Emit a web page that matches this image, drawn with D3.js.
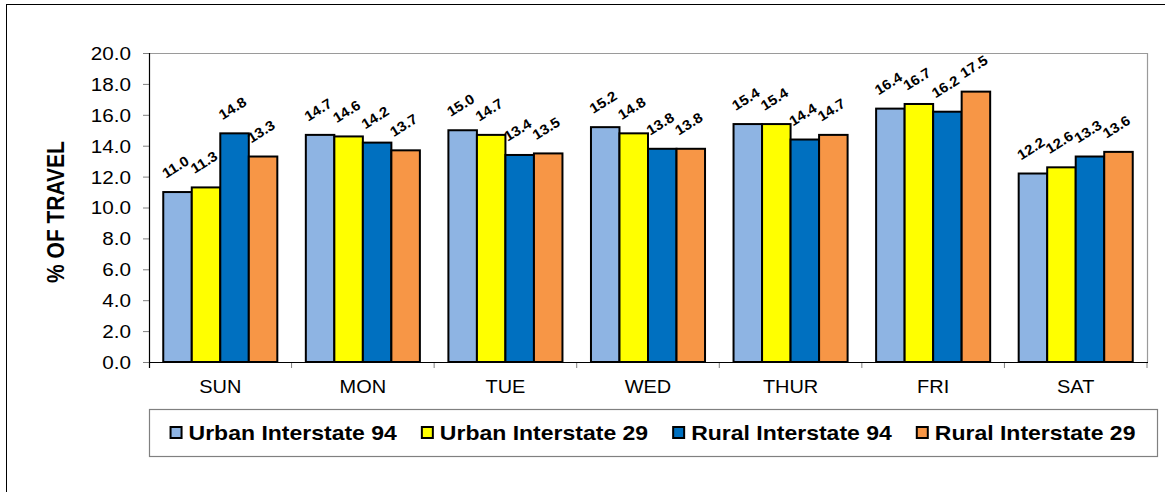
<!DOCTYPE html>
<html>
<head>
<meta charset="utf-8">
<script src="https://cdn.jsdelivr.net/npm/d3@7"></script>
<style>
  html, body { margin: 0; padding: 0; background: #fff; }
  svg { display: block; font-family: "Liberation Sans", Arial, sans-serif; }
</style>
</head>
<body>
<svg id="chart" width="1165" height="492"></svg>
<script>
// ---- data ----
const days = ["SUN", "MON", "TUE", "WED", "THUR", "FRI", "SAT"];
const seriesNames = ["Urban Interstate 94", "Urban Interstate 29", "Rural Interstate 94", "Rural Interstate 29"];
const urban94 = [11.0, 14.7, 15.0, 15.2, 15.4, 16.4, 12.2];
const urban29 = [11.3, 14.6, 14.7, 14.8, 15.4, 16.7, 12.6];
const rural94 = [14.8, 14.2, 13.4, 13.8, 14.4, 16.2, 13.3];
const rural29 = [13.3, 13.7, 13.5, 13.8, 14.7, 17.5, 13.6];
const yTicks = [0, 2, 4, 6, 8, 10, 12, 14, 16, 18, 20];
const yTitle = "% OF TRAVEL";

const seriesValues = [urban94, urban29, rural94, rural29];
const colors = ["#8EB4E3", "#FFFF00", "#0070C0", "#F79646"];

(function () {
// ---- layout ----
const svg = d3.select("#chart");
const pLeft = 149, pRight = 1147, pTop = 53, pBottom = 362;
const SX = 1.15; // horizontal text stretch seen in the reference

// outer frame
svg.append("rect").attr("x", 6.5).attr("y", 4.5).attr("width", 1300).attr("height", 600)
  .attr("fill", "none").attr("stroke", "#000").attr("stroke-width", 1);

const x0 = d3.scaleBand().domain(days).range([pLeft, pRight]).paddingInner(0.2).paddingOuter(0.1);
const x1 = d3.scaleBand().domain(d3.range(seriesNames.length)).range([0, x0.bandwidth()]);
const y = d3.scaleLinear().domain([0, 20]).range([pBottom, pTop]);

// plot area border (gray top/right)
svg.append("path")
  .attr("d", `M${pLeft},${pTop + 0.5}H${pRight + 0.5}V${pBottom}`)
  .attr("fill", "none").attr("stroke", "#9a9a9a").attr("stroke-width", 1.2);

// y axis
const yAxis = svg.append("g").attr("transform", `translate(${pLeft},0)`)
  .call(d3.axisLeft(y).tickValues(yTicks).tickFormat(d3.format(".1f")).tickSize(6).tickSizeOuter(0));
yAxis.select(".domain").remove();
yAxis.selectAll(".tick line").attr("stroke", "#808080");
yAxis.selectAll(".tick text")
  .attr("x", null).attr("dy", null)
  .attr("transform", `translate(-18,0) scale(${SX},1)`)
  .attr("dominant-baseline", "central")
  .style("font-size", "18px").style("font-family", "Liberation Sans, Arial, sans-serif").attr("fill", "#000");
svg.append("line").attr("x1", pLeft + 0.5).attr("x2", pLeft + 0.5).attr("y1", pTop).attr("y2", pBottom + 6)
  .attr("stroke", "#000").attr("stroke-width", 1.2);

// category ticks
const step = x0.step();
const boundaries = d3.range(days.length + 1).map(i => x0(days[0]) - x0.paddingOuter() * step + i * step);
svg.append("g").selectAll("line").data(boundaries.slice(1)).join("line")
  .attr("x1", d => d).attr("x2", d => d).attr("y1", pBottom).attr("y2", pBottom + 6)
  .attr("stroke", "#808080").attr("stroke-width", 1);

// bars
const groups = svg.append("g").selectAll("g").data(days).join("g")
  .attr("transform", d => `translate(${x0(d)},0)`);
groups.selectAll("rect").data((d, i) => seriesValues.map((s, k) => ({ k, v: s[i] }))).join("rect")
  .attr("x", d => x1(d.k)).attr("width", x1.bandwidth())
  .attr("y", d => y(d.v)).attr("height", d => y(0) - y(d.v))
  .attr("fill", d => colors[d.k]).attr("stroke", "#000").attr("stroke-width", 2);

// value labels
groups.selectAll("text").data((d, i) => seriesValues.map((s, k) => ({ k, v: s[i] }))).join("text")
  .attr("transform", d => `translate(${x1(d.k) + x1.bandwidth() / 2 - 2},${y(d.v) - 25}) rotate(-32) scale(1.08,1)`)
  .attr("text-anchor", "middle").attr("dominant-baseline", "central")
  .style("font-size", "14px").style("font-weight", "bold").attr("fill", "#000")
  .text(d => d3.format(".1f")(d.v));

// x axis line
svg.append("line").attr("x1", pLeft).attr("x2", pRight + 1).attr("y1", pBottom + 0.5).attr("y2", pBottom + 0.5)
  .attr("stroke", "#000").attr("stroke-width", 1.2);

// category labels
svg.append("g").selectAll("text").data(days).join("text")
  .attr("transform", d => `translate(${x0(d) + x0.bandwidth() / 2},393) scale(1.05,1)`)
  .attr("text-anchor", "middle").style("font-size", "19px").attr("fill", "#000")
  .text(d => d);

// y title
svg.append("text")
  .attr("transform", `translate(64,212) scale(${SX},1) rotate(-90)`)
  .attr("text-anchor", "middle").style("font-size", "21px").style("font-weight", "bold")
  .text(yTitle);

// legend
const legX = 149, legY = 409.5, legW = 1008, legH = 47;
svg.append("rect").attr("x", legX + 0.5).attr("y", legY).attr("width", legW).attr("height", legH)
  .attr("fill", "#fff").attr("stroke", "#808080").attr("stroke-width", 1.2);
const leg = svg.append("g");
const items = leg.selectAll("g").data(seriesNames).join("g");
items.append("rect").attr("x", 0).attr("y", -6).attr("width", 11).attr("height", 11)
  .attr("fill", (d, i) => colors[i]).attr("stroke", "#000").attr("stroke-width", 2);
items.append("text").attr("transform", `translate(18,0) scale(${SX},1)`)
  .attr("dominant-baseline", "central")
  .style("font-size", "20px").style("font-weight", "bold").text(d => d);
let cx = 0;
const positions = [];
items.each(function () {
  const w = d3.select(this).select("text").node().getComputedTextLength() * SX + 18;
  positions.push(cx);
  cx += w + 25;
});
const total = cx - 25;
const startX = legX + (legW - total) / 2;
items.attr("transform", (d, i) => `translate(${startX + positions[i]},${legY + legH / 2})`);
})();
</script>
</body>
</html>
